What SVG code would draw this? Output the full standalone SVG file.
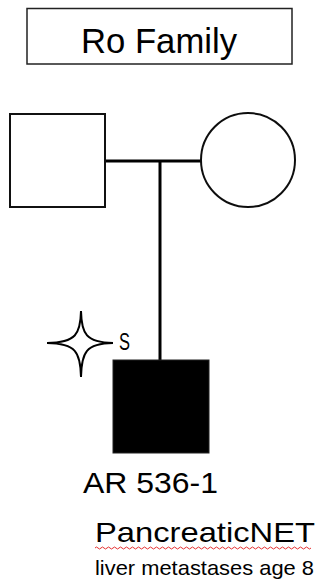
<svg xmlns="http://www.w3.org/2000/svg" width="320" height="584" viewBox="0 0 320 584">
<style>
.t{font-family:"Liberation Sans",Arial,sans-serif;fill:#000}
.sym{fill:#fff;stroke:#111;stroke-width:2}
.ln{stroke:#000;stroke-width:3;fill:none}
</style>
<defs>
<filter id="blur" x="-20%" y="-20%" width="140%" height="140%"><feGaussianBlur stdDeviation="0.6"/></filter>
</defs>
<rect width="320" height="584" fill="#fff"/>
<g id="title">
<rect x="27" y="8.5" width="265" height="55.5" fill="#fff" stroke="#222" stroke-width="1.5"/>
<text class="t" x="159" y="53" font-size="35" text-anchor="middle" textLength="156" lengthAdjust="spacingAndGlyphs">Ro Family</text>
</g>
<g id="connectors">
<line class="ln" x1="105" y1="161" x2="201" y2="161"/>
<line class="ln" x1="160" y1="161" x2="160" y2="360"/>
</g>
<g id="father">
<rect class="sym" x="10" y="114" width="95" height="93"/>
</g>
<g id="mother">
<circle class="sym" cx="248" cy="160" r="47" filter="url(#blur)"/>
</g>
<g id="proband">
<rect x="113" y="360" width="96" height="93" fill="#000" stroke="#222" stroke-width="1"/>
<path d="M81,311 C81.5,334 86,342.5 113,343 C86,343.5 81.5,352 81,377 C80.5,352 76,343.5 47,343 C76,342.5 80.5,334 81,311 Z" fill="#fff" stroke="#000" stroke-width="2" stroke-linejoin="miter" filter="url(#blur)"/>
<text class="t" x="119" y="350" font-size="24" textLength="11" lengthAdjust="spacingAndGlyphs">S</text>
<text class="t" x="83" y="493" font-size="30" textLength="135" lengthAdjust="spacingAndGlyphs">AR 536-1</text>
<text class="t" x="95" y="542" font-size="28" textLength="220" lengthAdjust="spacingAndGlyphs">PancreaticNET</text>
<path d="M95,548 q1.5,-2 3,0 t3,0 t3,0 t3,0 t3,0 t3,0 t3,0 t3,0 t3,0 t3,0 t3,0 t3,0 t3,0 t3,0 t3,0 t3,0 t3,0 t3,0 t3,0 t3,0 t3,0 t3,0 t3,0 t3,0 t3,0 t3,0 t3,0 t3,0 t3,0 t3,0 t3,0 t3,0 t3,0 t3,0 t3,0 t3,0 t3,0 t3,0 t3,0 t3,0 t3,0 t3,0 t3,0 t3,0 t3,0 t3,0 t3,0 t3,0 t3,0 t3,0 t3,0 t3,0 t3,0 t3,0 t3,0 t3,0 t3,0 t3,0 t3,0 t3,0 t3,0 t3,0 t3,0 t3,0 t3,0 t3,0 t3,0 t3,0 t3,0 t3,0 t3,0 t3,0" fill="none" stroke="#e53030" stroke-width="1"/>
<text class="t" x="95" y="575" font-size="21" textLength="219" lengthAdjust="spacingAndGlyphs">liver metastases age 8</text>
</g>
</svg>
